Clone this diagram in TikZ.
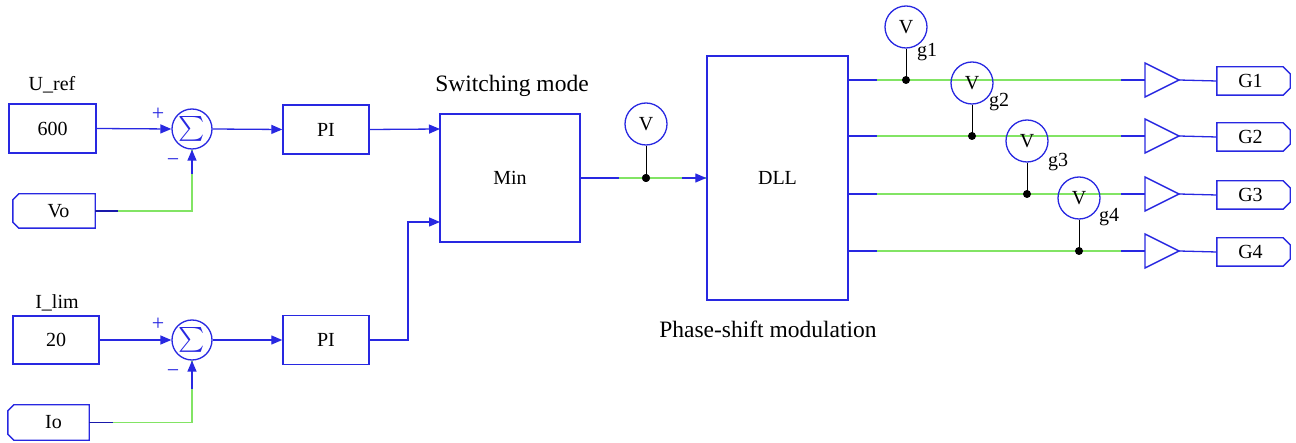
\documentclass[tikz,border=0pt]{standalone}
\usepackage{amsmath}
\usepackage{fontspec}
\setmainfont{Liberation Serif}
\usetikzlibrary{arrows.meta}
\definecolor{bl}{RGB}{40,40,225}
\definecolor{nv}{RGB}{25,25,170}
\definecolor{gr}{RGB}{130,228,100}
\begin{document}
\begin{tikzpicture}[x=1pt,y=-1pt,
  font=\fontsize{20}{24}\selectfont,
  blk/.style={draw=bl, line width=1.4pt, inner sep=0pt},
  bare/.style={inner sep=0pt},
  wire/.style={draw=bl, line width=1.3pt},
  gwire/.style={draw=gr, line width=1.3pt},
  arr/.style={-{Triangle[length=11pt,width=9pt]}},
  sumc/.style={circle, draw=bl, line width=1.3pt, minimum size=40pt, inner sep=0pt,
    font=\fontsize{25}{25}\selectfont, text=bl},
  vm/.style={circle, draw=bl, line width=1.3pt, minimum size=42pt, inner sep=0pt},
  jdot/.style={circle, fill=black, minimum size=8pt, inner sep=0pt},
  stem/.style={draw=black, line width=1pt},
  sgn/.style={text=bl, inner sep=0pt, font=\fontsize{22}{24}\selectfont},
  title/.style={font=\fontsize{23.5}{28}\selectfont, inner sep=0pt}
]
\useasboundingbox (0,0) rectangle (1296,443);

% ---------- upper loop ----------
\node[bare] (ureflbl) at (52,85) {U\_ref};
\node[blk, minimum width=87pt, minimum height=49pt] (uref) at (52.5,128.5) {600};
\node[sumc] (s1) at (192,129) {$\sum$};
\node[sgn] (p1) at (158,114) {+};
\node[sgn] (m1) at (173,163) {\textminus};
\node[bare, minimum width=82pt, minimum height=34pt] (vo) at (54,211) {\hspace*{9pt}Vo};
\draw[bl, line width=1.4pt] ([xshift=6pt]vo.north west) -- (vo.north east) -- (vo.south east)
  -- ([xshift=6pt]vo.south west) -- ([yshift=6pt]vo.south west) -- ([yshift=-6pt]vo.north west) -- cycle;
\node[blk, minimum width=86pt, minimum height=49pt] (pi1) at (326,129.5) {PI};

\draw[wire, arr] (uref.east) -- (s1.west);
\draw[wire, arr] (s1.east) -- (pi1.west);
\draw[gwire] (vo.east) -| (s1.south);
\draw[draw=nv, line width=1.3pt] (vo.east) -- ++(23,0);
\draw[wire, arr] ([yshift=-24pt]s1.south) -- (s1.south);

% ---------- lower loop ----------
\node[bare] (ilimlbl) at (57,303) {I\_lim};
\node[blk, minimum width=86pt, minimum height=48pt] (ilim) at (56,340) {20};
\node[sumc] (s2) at (192,340) {$\sum$};
\node[sgn] (p2) at (158,324) {+};
\node[sgn] (m2) at (173,374) {\textminus};
\node[bare, minimum width=81pt, minimum height=35pt] (io) at (48.5,422.5) {\hspace*{10pt}Io};
\draw[bl, line width=1.4pt] ([xshift=6pt]io.north west) -- (io.north east) -- (io.south east)
  -- ([xshift=6pt]io.south west) -- ([yshift=6pt]io.south west) -- ([yshift=-6pt]io.north west) -- cycle;
\node[blk, minimum width=86pt, minimum height=49pt] (pi2) at (326,340) {PI};

\draw[wire, arr] (ilim.east) -- (s2.west);
\draw[wire, arr] (s2.east) -- (pi2.west);
\draw[gwire] (io.east) -| (s2.south);
\draw[draw=nv, line width=1.3pt] (io.east) -- ++(24,0);
\draw[wire, arr] ([yshift=-28pt]s2.south) -- (s2.south);

% ---------- Min block ----------
\node[title] (swlbl) at (512,86) {Switching mode};
\node[blk, minimum width=140pt, minimum height=128pt] (min) at (510,178) {Min};
\coordinate (min1) at (440,129);
\coordinate (min2) at (440,222);
\draw[wire, arr] (pi1.east) -- (min1);
\draw[wire, arr] (pi2.east) -| (408,222) -- (min2);

% ---------- DLL block ----------
\node[blk, minimum width=141pt, minimum height=244pt] (dll) at (777.5,178) {DLL};
\node[title] (pslbl) at (768,329) {Phase-shift modulation};
\node[vm] (vmin) at (646,124) {V};
\node[jdot] (jmin) at (646,178) {};
\draw[gwire] (min.east) -- (dll.west);
\draw[wire] (min.east) -- ++(38,0);
\draw[wire, arr] ([xshift=-24pt]dll.west) -- (dll.west);
\draw[stem] (vmin.south) -- (jmin.center);
\node[jdot] at (jmin) {};

% ---------- outputs ----------
\foreach \i/\yy/\vx/\vy/\gx/\gy in {1/80/906/27/927/52, 2/136/972/83/999/102, 3/194/1027/141/1058/162, 4/251/1079/198/1109/217}{
  \coordinate (d\i) at (848,\yy);
  \coordinate (bi\i) at (1145,\yy);
  \coordinate (bo\i) at (1179,\yy);
  \node[bare, minimum width=73pt, minimum height=28pt] (g\i) at (1253.5,\yy+1) {\hspace*{-6pt}G\i};
  \draw[bl, line width=1.4pt] (g\i.north west) -- ([xshift=-7pt]g\i.north east) -- ([yshift=-7pt]g\i.north east)
    -- ([yshift=7pt]g\i.south east) -- ([xshift=-7pt]g\i.south east) -- (g\i.south west) -- cycle;
  \draw[bl, line width=1.4pt, line join=miter] (1145,\yy-17) -- (bo\i) -- (1145,\yy+17) -- cycle;
  \draw[gwire] (d\i) -- (bi\i);
  \draw[wire] (d\i) -- ++(29,0);
  \draw[wire] (bi\i) -- ++(-24,0);
  \draw[wire] (bo\i) -- (g\i.west);
  \node[vm] (vg\i) at (\vx,\vy) {V};
  \node[jdot] (jg\i) at (\vx,\yy) {};
  \draw[stem] (vg\i.south) -- (jg\i.center);
  \node[bare] (lg\i) at (\gx,\gy) {g\i};
}
\end{tikzpicture}
\end{document}
